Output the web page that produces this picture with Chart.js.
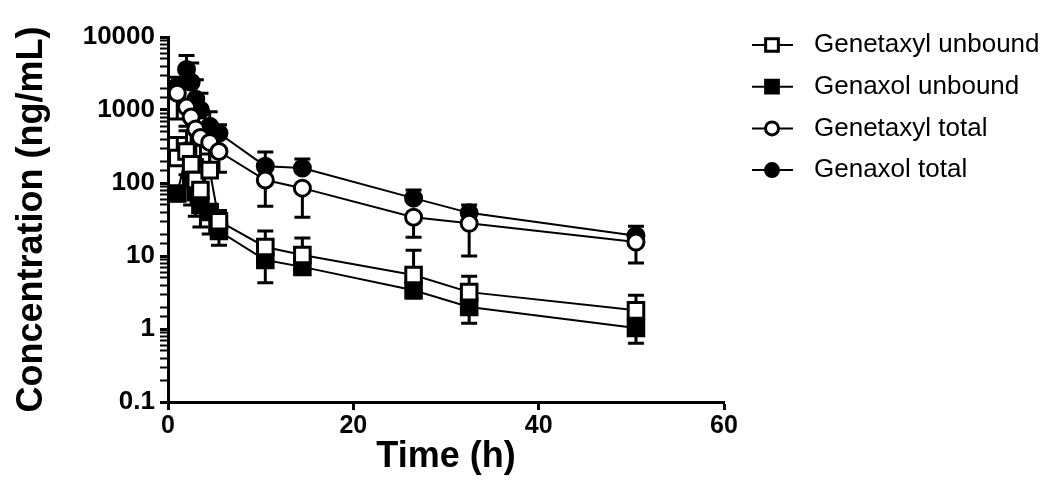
<!DOCTYPE html>
<html>
<head>
<meta charset="utf-8">
<script src="https://cdn.jsdelivr.net/npm/chart.js@4"></script>
<style>
  html, body { margin: 0; padding: 0; background: #fff; }
  #wrap { width: 1050px; height: 503px; }
</style>
</head>
<body>
<div id="wrap"><canvas id="myChart" width="1050" height="503"></canvas></div>
<script>
// sampling times (h)
const times = [1, 2, 2.5, 3, 3.5, 4.5, 5.5, 10.5, 14.5, 26.5, 32.5, 50.5];

// mean concentrations (ng/mL)
const genetaxylUnbound = [220, 270, 180, 110, 80, 150, 30, 13.3, 10.3, 5.5, 3.2, 1.8];
const genaxolUnbound   = [72, 250, 120, 75, 50, 40, 22, 8.8, 7.1, 3.4, 2.0, 1.03];
const genetaxylTotal   = [1700, 1100, 800, 550, 420, 360, 270, 110, 85, 34, 28, 15.5];
const genaxolTotal     = [2100, 3600, 2400, 1400, 1000, 600, 480, 170, 160, 62, 39, 19];

// SD (only the visible side of each bar)
const genetaxylUnboundUp = [200, 250, 150, 100, 60, 100, 12, 8.7, 7.4, 6.5, 2.1, 1.1];
const genaxolUnboundDown = [15, 120, 70, 40, 25, 20, 8, 4.5, 0.8, 0.75, 0.8, 0.39];
const genetaxylTotalDown = [950, 500, 450, 350, 250, 200, 130, 62, 51, 16, 18, 7.5];
const genaxolTotalUp     = [700, 2000, 2000, 1200, 700, 350, 150, 96, 53, 18, 11, 6.5];

const yTickLabels = ['0.1', '1', '10', '100', '1000', '10000'];

const pts = (vals) => vals.map((v, i) => ({ x: times[i], y: v }));
const isDecade = (v) => Math.abs(Math.log10(v) - Math.round(Math.log10(v))) < 1e-6;

const errorBars = {
  id: 'errorBars',
  beforeDatasetsDraw(chart) {
    const { ctx, scales: { x, y } } = chart;
    ctx.save();
    ctx.strokeStyle = '#000';
    ctx.lineWidth = 3;
    chart.data.datasets.forEach((ds) => {
      ds.data.forEach((p, j) => {
        const px = x.getPixelForValue(p.x);
        const py = y.getPixelForValue(p.y);
        const ends = [];
        if (ds.errUp) ends.push(y.getPixelForValue(p.y + ds.errUp[j]));
        if (ds.errDown) ends.push(y.getPixelForValue(Math.max(p.y - ds.errDown[j], 0.1)));
        ends.forEach((ey) => {
          ctx.beginPath();
          ctx.moveTo(px, py);
          ctx.lineTo(px, ey);
          ctx.moveTo(px - 8, ey);
          ctx.lineTo(px + 8, ey);
          ctx.stroke();
        });
      });
    });
    ctx.restore();
  }
};

function marker(ctx, style, filled, x, y, r) {
  ctx.beginPath();
  if (style === 'rect') {
    const s = r * Math.SQRT1_2;
    ctx.rect(x - s, y - s, 2 * s, 2 * s);
  } else {
    ctx.arc(x, y, r, 0, Math.PI * 2);
  }
  ctx.fillStyle = filled ? '#000' : '#fff';
  ctx.fill();
  ctx.lineWidth = 3;
  ctx.strokeStyle = '#000';
  ctx.stroke();
}

const sideLegend = {
  id: 'sideLegend',
  afterDraw(chart) {
    const ctx = chart.ctx;
    ctx.save();
    chart.data.datasets.forEach((ds, i) => {
      const yy = 45 + i * 41.7;
      ctx.beginPath();
      ctx.moveTo(752, yy);
      ctx.lineTo(793, yy);
      ctx.lineWidth = 2;
      ctx.strokeStyle = '#000';
      ctx.stroke();
      marker(ctx, ds.pointStyle, ds.pointBackgroundColor === '#000', 772, yy, ds.pointStyle === 'rect' ? 9 : 6.5);
      ctx.fillStyle = '#000';
      ctx.font = '26px "Liberation Sans", Arial, sans-serif';
      ctx.textBaseline = 'middle';
      ctx.fillText(ds.label, 814, yy);
    });
    ctx.restore();
  }
};

const series = (label, vals, style, filled, extra) => Object.assign({
  label: label,
  data: pts(vals),
  borderColor: '#000',
  borderWidth: 2,
  pointStyle: style,
  pointRadius: style === 'rect' ? 11 : 8,
  pointBorderWidth: 3,
  pointBorderColor: '#000',
  pointBackgroundColor: filled ? '#000' : '#fff',
  tension: 0
}, extra);

const ctx = document.getElementById('myChart');

new Chart(ctx, {
  type: 'line',
  data: {
    datasets: [
      series('Genetaxyl unbound', genetaxylUnbound, 'rect', false, { errUp: genetaxylUnboundUp }),
      series('Genaxol unbound', genaxolUnbound, 'rect', true, { errDown: genaxolUnboundDown }),
      series('Genetaxyl total', genetaxylTotal, 'circle', false, { errDown: genetaxylTotalDown }),
      series('Genaxol total', genaxolTotal, 'circle', true, { errUp: genaxolTotalUp })
    ]
  },
  options: {
    responsive: false,
    animation: false,
    devicePixelRatio: 1,
    layout: { padding: { left: 0, right: 326, top: 37, bottom: 0 } },
    plugins: {
      legend: { display: false },
      tooltip: { enabled: false }
    },
    scales: {
      x: {
        type: 'linear',
        min: 0,
        max: 60,
        afterFit: (s) => { s.height = 101; },
        border: { color: '#000', width: 3 },
        grid: { drawOnChartArea: false, tickLength: 8, tickWidth: 3, tickColor: '#000' },
        ticks: {
          stepSize: 20,
          color: '#000',
          padding: 1,
          font: { family: '"Liberation Sans", Arial', size: 25, weight: 'bold' }
        },
        title: {
          display: true,
          text: 'Time (h)',
          color: '#000',
          padding: { top: 0, bottom: 24 },
          font: { family: '"Liberation Sans", Arial', size: 36, weight: 'bold' }
        }
      },
      y: {
        type: 'logarithmic',
        min: 0.1,
        max: 10000,
        afterFit: (s) => { s.width = 168; },
        border: { color: '#000', width: 3 },
        grid: {
          drawOnChartArea: false,
          tickLength: 8,
          tickColor: '#000',
          tickWidth: (c) => (c.tick && isDecade(c.tick.value) ? 3 : 2)
        },
        ticks: {
          autoSkip: false,
          color: '#000',
          padding: 5,
          font: { family: '"Liberation Sans", Arial', size: 26, weight: 'bold' },
          callback: (v) => {
            if (!isDecade(v)) return '';
            return yTickLabels[Math.round(Math.log10(v)) + 1];
          }
        },
        title: {
          display: true,
          text: 'Concentration (ng/mL)',
          color: '#000',
          padding: { top: 10, bottom: 0 },
          font: { family: '"Liberation Sans", Arial', size: 36, weight: 'bold' }
        }
      }
    }
  },
  plugins: [errorBars, sideLegend]
});
</script>
</body>
</html>
